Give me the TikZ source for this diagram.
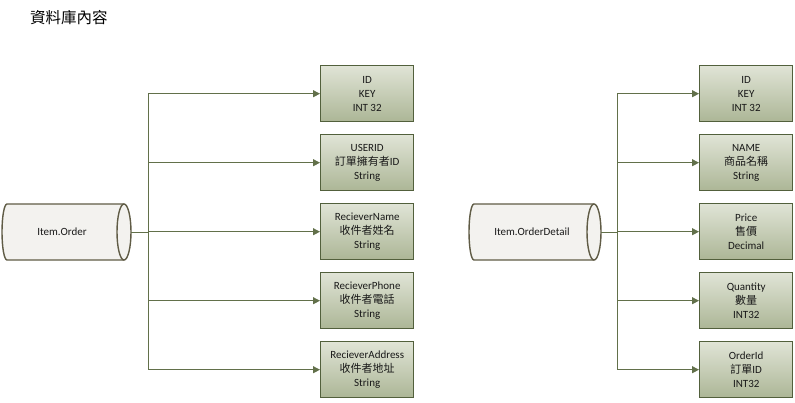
\documentclass[tikz,border=0pt]{standalone}
\usepackage{fontspec}
\setmainfont{Carlito}
\newfontfamily\cjk{Noto Sans CJK TC}
\usetikzlibrary{arrows.meta}
\definecolor{lineC}{RGB}{98,112,74}
\definecolor{boxB}{RGB}{82,96,60}
\definecolor{boxT}{RGB}{224,228,214}
\definecolor{boxD}{RGB}{172,182,150}
\definecolor{cylF}{RGB}{243,242,239}
\definecolor{cylB}{RGB}{96,92,70}
\definecolor{txt}{RGB}{25,25,25}
\begin{document}
\begin{tikzpicture}[x=1pt,y=1pt,
  field/.style={draw=boxB, line width=1.4pt, top color=boxT, bottom color=boxD,
    minimum width=93pt, minimum height=56pt, inner sep=0pt, align=center,
    text=txt, font=\fontsize{11}{14}\selectfont, anchor=north west},
  conn/.style={draw=lineC, line width=0.9pt},
  arr/.style={conn, -{Triangle[length=7pt,width=7pt]}},
  cyl/.style={fill=cylF, draw=cylB, line width=1.4pt},
  cyltext/.style={text=txt, font=\fontsize{11}{13}\selectfont}
]
\useasboundingbox (0,0) rectangle (795,-402);
\fill[white] (0,0) rectangle (795,-402);

% title
\node[anchor=west, text=black, inner sep=0pt, font=\cjk\fontsize{15.5}{17}\selectfont] (title) at (30,-18) {資料庫內容};

% left cylinder
\fill[cylF] (124,-204) -- (7,-204) arc[start angle=90,end angle=270,x radius=5,y radius=28] -- (124,-260) arc[start angle=-90,end angle=90,x radius=7,y radius=28] -- cycle;
\draw[cyl, fill=none] (124,-204) -- (7,-204) arc[start angle=90,end angle=270,x radius=5,y radius=28] -- (124,-260);
\draw[cyl] (124,-232) ellipse[x radius=7,y radius=28];
\node[cyltext] (ord) at (62,-232) {Item.Order};
\coordinate (ordR) at (131,-232);
\coordinate (tL) at (148,-232);

% right cylinder
\fill[cylF] (594,-204) -- (474,-204) arc[start angle=90,end angle=270,x radius=5,y radius=28] -- (594,-260) arc[start angle=-90,end angle=90,x radius=7,y radius=28] -- cycle;
\draw[cyl, fill=none] (594,-204) -- (474,-204) arc[start angle=90,end angle=270,x radius=5,y radius=28] -- (594,-260);
\draw[cyl] (594,-232) ellipse[x radius=7,y radius=28];
\node[cyltext] (det) at (532,-232) {Item.OrderDetail};
\coordinate (detR) at (601,-232);
\coordinate (tR) at (617,-232);

% left boxes
\node[field] (a1) at (320,-65)  {ID\\KEY\\INT 32};
\node[field] (a2) at (320,-134) {USERID\\{\cjk 訂單擁有者}ID\\String};
\node[field] (a3) at (320,-203) {RecieverName\\{\cjk 收件者姓名}\\String};
\node[field] (a4) at (320,-272) {RecieverPhone\\{\cjk 收件者電話}\\String};
\node[field] (a5) at (320,-341) {RecieverAddress\\{\cjk 收件者地址}\\String};

% right boxes
\node[field] (b1) at (699,-65)  {ID\\KEY\\INT 32};
\node[field] (b2) at (699,-134) {NAME\\{\cjk 商品名稱}\\String};
\node[field] (b3) at (699,-203) {Price\\{\cjk 售價}\\Decimal};
\node[field] (b4) at (699,-272) {Quantity\\{\cjk 數量}\\INT32};
\node[field] (b5) at (699,-341) {OrderId\\{\cjk 訂單}ID\\INT32};

% connectors
\draw[conn] (ordR) -- (tL);
\foreach \n in {a1,a2,a3,a4,a5} \draw[arr] (tL) |- (\n.west);
\draw[conn] (detR) -- (tR);
\foreach \n in {b1,b2,b3,b4,b5} \draw[arr] (tR) |- (\n.west);
\end{tikzpicture}
\end{document}
